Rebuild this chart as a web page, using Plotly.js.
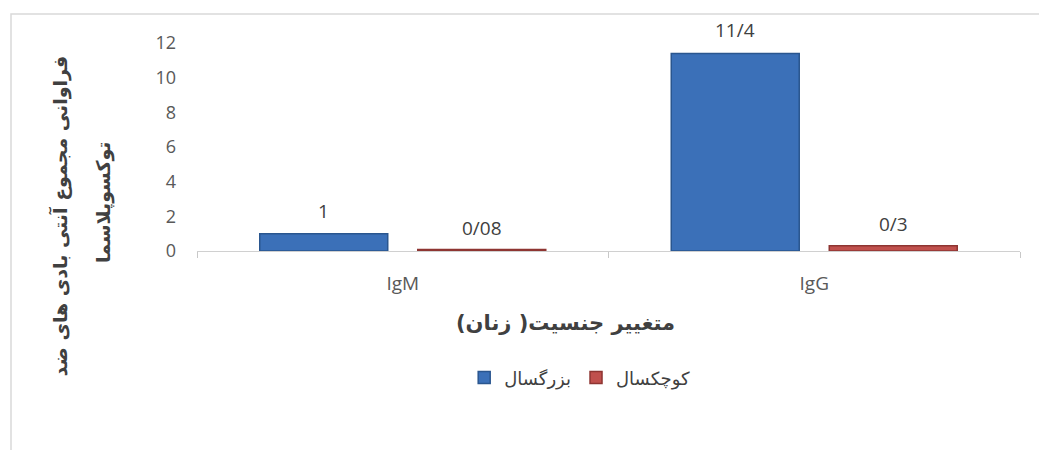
<!DOCTYPE html>
<html>
<head>
<meta charset="utf-8">
<script src="https://cdn.plot.ly/plotly-3.0.1.min.js"></script>
<style>html,body{margin:0;padding:0;background:#fff;}#chart{width:1039px;height:450px;}</style>
</head>
<body>
<div id="chart"></div>
<script>
const categories = ["IgM", "IgG"];
const adultName = "بزرگسال";
const childName = "کوچکسال";
const adultValues = [1, 11.4];
const childValues = [0.08, 0.3];
const adultLabels = ["1", "11/4"];
const childLabels = ["0/08", "0/3"];
const yTickVals = [0, 2, 4, 6, 8, 10, 12];
const yTitleLine1 = "فراوانی مجموع آنتی بادی های ضد";
const yTitleLine2 = "توکسوپلاسما";
const xTitle = "متغییر جنسیت( زنان)";

const arabicFont = "DejaVu Sans, sans-serif";
const numFont = "Open Sans, Liberation Sans, sans-serif";

const traces = [
  {
    type: "bar", name: adultName, x: categories, y: adultValues,
    marker: {color: "#3B70B8", line: {color: "#2A568F", width: 1.5}},
    hoverinfo: "x+y"
  },
  {
    type: "bar", name: childName, x: categories, y: childValues,
    marker: {color: "#C0504D", line: {color: "#8E3532", width: 1.5}},
    hoverinfo: "x+y"
  }
];

// data labels: placed at each bar's value via the axes, shifted above the bar
const labelFont = {family: numFont, size: 19, color: "#404040"};
const labelAnns = [];
categories.forEach((c, i) => {
  labelAnns.push({xref: "x", yref: "y", x: c, y: adultValues[i], xshift: -79, yshift: 23,
    text: adultLabels[i], showarrow: false, yanchor: "middle", font: labelFont});
  labelAnns.push({xref: "x", yref: "y", x: c, y: childValues[i], xshift: 79, yshift: 22,
    text: childLabels[i], showarrow: false, yanchor: "middle", font: labelFont});
});

const titleFont = {family: arabicFont, size: 19, color: "#404040", weight: "bold"};
const titleAnns = [
  {xref: "paper", yref: "paper", x: -0.166, y: 0.168, text: yTitleLine1, textangle: -90,
   showarrow: false, xanchor: "center", yanchor: "middle", font: titleFont},
  {xref: "paper", yref: "paper", x: -0.113, y: 0.231, text: yTitleLine2, textangle: -90,
   showarrow: false, xanchor: "center", yanchor: "middle", font: titleFont},
  {xref: "paper", yref: "paper", x: 0.4483, y: -0.346, text: xTitle,
   showarrow: false, xanchor: "center", yanchor: "middle",
   font: {family: arabicFont, size: 21, color: "#404040", weight: "bold"}}
];

const layout = {
  width: 1039, height: 450,
  margin: {l: 197, r: 19, t: 43, b: 199},
  paper_bgcolor: "#ffffff", plot_bgcolor: "#ffffff",
  barmode: "group", bargap: 0.232, bargroupgap: 0.19,
  showlegend: true,
  legend: {
    orientation: "h", x: 0.465, xanchor: "center", y: -0.61, yanchor: "middle",
    traceorder: "normal", itemwidth: 30,
    font: {family: arabicFont, size: 18, color: "#404040"}
  },
  xaxis: {
    type: "category",
    showline: true, linecolor: "#d0d0d0", linewidth: 1,
    ticks: "outside", tickson: "boundaries", ticklen: 6, tickcolor: "#c8c8c8",
    tickfont: {family: numFont, size: 19, color: "#595959"},
    ticklabelstandoff: 15,
    showgrid: false, zeroline: false
  },
  yaxis: {
    range: [0, 12], tickvals: yTickVals,
    showline: false, ticks: "", showgrid: false, zeroline: false,
    tickfont: {family: numFont, size: 18, color: "#595959"},
    ticklabelstandoff: 20
  },
  annotations: labelAnns.concat(titleAnns),
  shapes: [
    {type: "rect", xref: "paper", yref: "paper", x0: -0.226, x1: 1.05, y0: -1.05, y1: 1.139,
     line: {color: "#d9d9d9", width: 1.5}, fillcolor: "rgba(0,0,0,0)", layer: "below"}
  ]
};

Plotly.newPlot("chart", traces, layout, {displayModeBar: false, staticPlot: true});
</script>
</body>
</html>
